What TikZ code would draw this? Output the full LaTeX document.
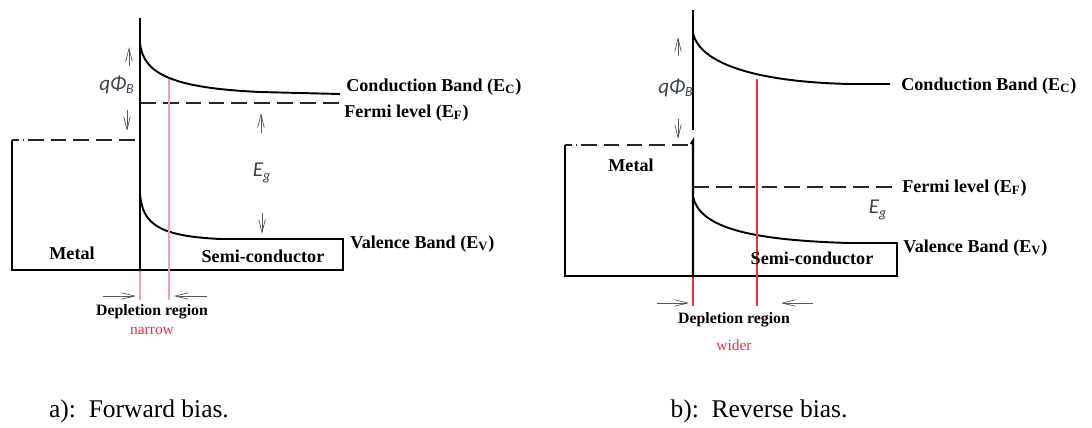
\documentclass[tikz,border=0pt]{standalone}
\usepackage{fontspec}
\setmainfont{Liberation Serif}
\newfontfamily\calfont{Carlito}
\usepackage{tikz}
\usetikzlibrary{positioning,arrows.meta,calc}
\definecolor{deplpink}{RGB}{244,160,170}
\definecolor{deplred}{RGB}{236,50,64}
\definecolor{mathgray}{RGB}{60,66,80}
\colorlet{pointgray}{black!65}

\begin{document}
\begin{tikzpicture}[x=0.02cm,y=-0.02cm,
    band/.style={line width=1.1pt,black},
    wall/.style={line width=1.4pt,black},
    fermi/.style={line width=1.1pt,black!85,dash pattern=on 9pt off 4pt},
    metaltop/.style={line width=1.1pt,black!85,dash pattern=on 4pt off 2pt on 1pt off 2pt on 9pt off 4pt on 9pt off 4pt on 9pt off 4pt on 9pt off 4pt on 9pt off 4pt on 9pt off 4pt on 9pt off 4pt},
    depl/.style={line width=0.9pt,deplpink},
    deplw/.style={line width=0.6pt,deplred},
    pointer/.style={pointgray,line width=0.4pt,-{Straight Barb[length=2.6mm,width=1.3mm]}},
    lbl/.style={font=\fontsize{10.3}{12}\selectfont\bfseries,inner sep=0pt},
    bandlbl/.style={lbl,anchor=west},
    depllbl/.style={font=\fontsize{9}{11}\selectfont\bfseries,inner sep=0pt},
    widthlbl/.style={font=\fontsize{8.8}{10}\selectfont,text=deplred,inner sep=0pt},
    mathlbl/.style={font=\fontsize{12}{14}\selectfont\calfont\itshape,text=mathgray,inner sep=0pt},
    caption/.style={font=\fontsize{14.5}{16}\selectfont,inner sep=0pt}]
  \useasboundingbox (0,0) rectangle (1092,427);

  % a) forward bias
  \draw[band] (140,43) .. controls (143,75) and (175,88) .. (260,92) -- (340,94);
  \draw[fermi] (140,103) -- (340,103);
  \draw[metaltop] (12,140) -- (138,140);
  \draw[band] (12,140) -- (12,270) -- (140,270);
  \draw[band] (140,193) .. controls (142,225) and (160,236) .. (220,239) -- (343,239) -- (343,270) -- (140,270);
  \draw[depl] (169,79) -- (169,300);
  \draw[depl] (140,271) -- (140,300);
  \draw[wall] (140,18) -- (140,270);
  \node[bandlbl] (ecA) at (346,87) {Conduction Band (E\textsubscript{C})};
  \node[bandlbl] (efA) at (344,113) {Fermi level (E\textsubscript{F})};
  \node[bandlbl] (evA) at (350,244) {Valence Band (E\textsubscript{V})};
  \node[lbl] (metalA) at (72,253) {Metal};
  \node[lbl] (semiA) at (263,256) {Semi-conductor};
  \node[mathlbl] (qphiA) at (117,85) {qΦ\textsubscript{B}};
  \node[mathlbl] (egA) at (262,173) {E\textsubscript{g}};
  \coordinate (qa1) at (129,66); \coordinate (qa2) at (129,47);
  \coordinate (qb1) at (127,110); \coordinate (qb2) at (127,131);
  \coordinate (ga1) at (261,133); \coordinate (ga2) at (261,113);
  \coordinate (gb1) at (262,213); \coordinate (gb2) at (262,234);
  \draw[pointer] (qa1) -- (qa2);
  \draw[pointer] (qb1) -- (qb2);
  \draw[pointer] (ga1) -- (ga2);
  \draw[pointer] (gb1) -- (gb2);
  \coordinate (da1) at (103,296); \coordinate (da2) at (136,296);
  \coordinate (db1) at (207,296); \coordinate (db2) at (174,296);
  \draw[pointer] (da1) -- (da2);
  \draw[pointer] (db1) -- (db2);
  \node[depllbl] (deplA) at (152,312) {Depletion region};
  \node[widthlbl,below=4pt of deplA] (narrow) {narrow};
  \node[caption] (capA) at (139,411) {a):\ \ Forward bias.};

  % b) reverse bias
  \draw[band] (693,33) .. controls (700,65) and (760,82) .. (850,84) -- (890,84);
  \draw[fermi] (693,187) -- (893,187);
  \draw[metaltop] (565,145) -- (690,145);
  \draw[band] (565,145) -- (565,276) -- (693,276);
  \draw[band] (693,197) .. controls (700,225) and (740,240) .. (850,243) -- (897,243) -- (897,276) -- (693,276);
  \draw[deplw] (757,79) -- (757,306);
  \draw[deplw] (693,277) -- (693,306);
  \draw[wall] (693,10) -- (693,130);
  \draw[wall] (691,144) -- (693,141) -- (693,276);
  \node[bandlbl] (ecB) at (901,86) {Conduction Band (E\textsubscript{C})};
  \node[bandlbl] (efB) at (902,188) {Fermi level (E\textsubscript{F})};
  \node[bandlbl] (evB) at (903,248) {Valence Band (E\textsubscript{V})};
  \node[lbl] (metalB) at (631,165) {Metal};
  \node[lbl] (semiB) at (812,258) {Semi-conductor};
  \node[mathlbl] (qphiB) at (676,88) {qΦ\textsubscript{B}};
  \node[mathlbl] (egB) at (878,210) {E\textsubscript{g}};
  \coordinate (qc1) at (678,56); \coordinate (qc2) at (678,37);
  \coordinate (qd1) at (678,119); \coordinate (qd2) at (678,139);
  \draw[pointer] (qc1) -- (qc2);
  \draw[pointer] (qd1) -- (qd2);
  \coordinate (dc1) at (657,303); \coordinate (dc2) at (689,303);
  \coordinate (dd1) at (813,303); \coordinate (dd2) at (781,303);
  \draw[pointer] (dc1) -- (dc2);
  \draw[pointer] (dd1) -- (dd2);
  \node[depllbl] (deplB) at (734,320) {Depletion region};
  \node[widthlbl,below=7pt of deplB] (wider) {wider};
  \node[caption] (capB) at (759,411) {b):\ \ Reverse bias.};
\end{tikzpicture}
\end{document}
